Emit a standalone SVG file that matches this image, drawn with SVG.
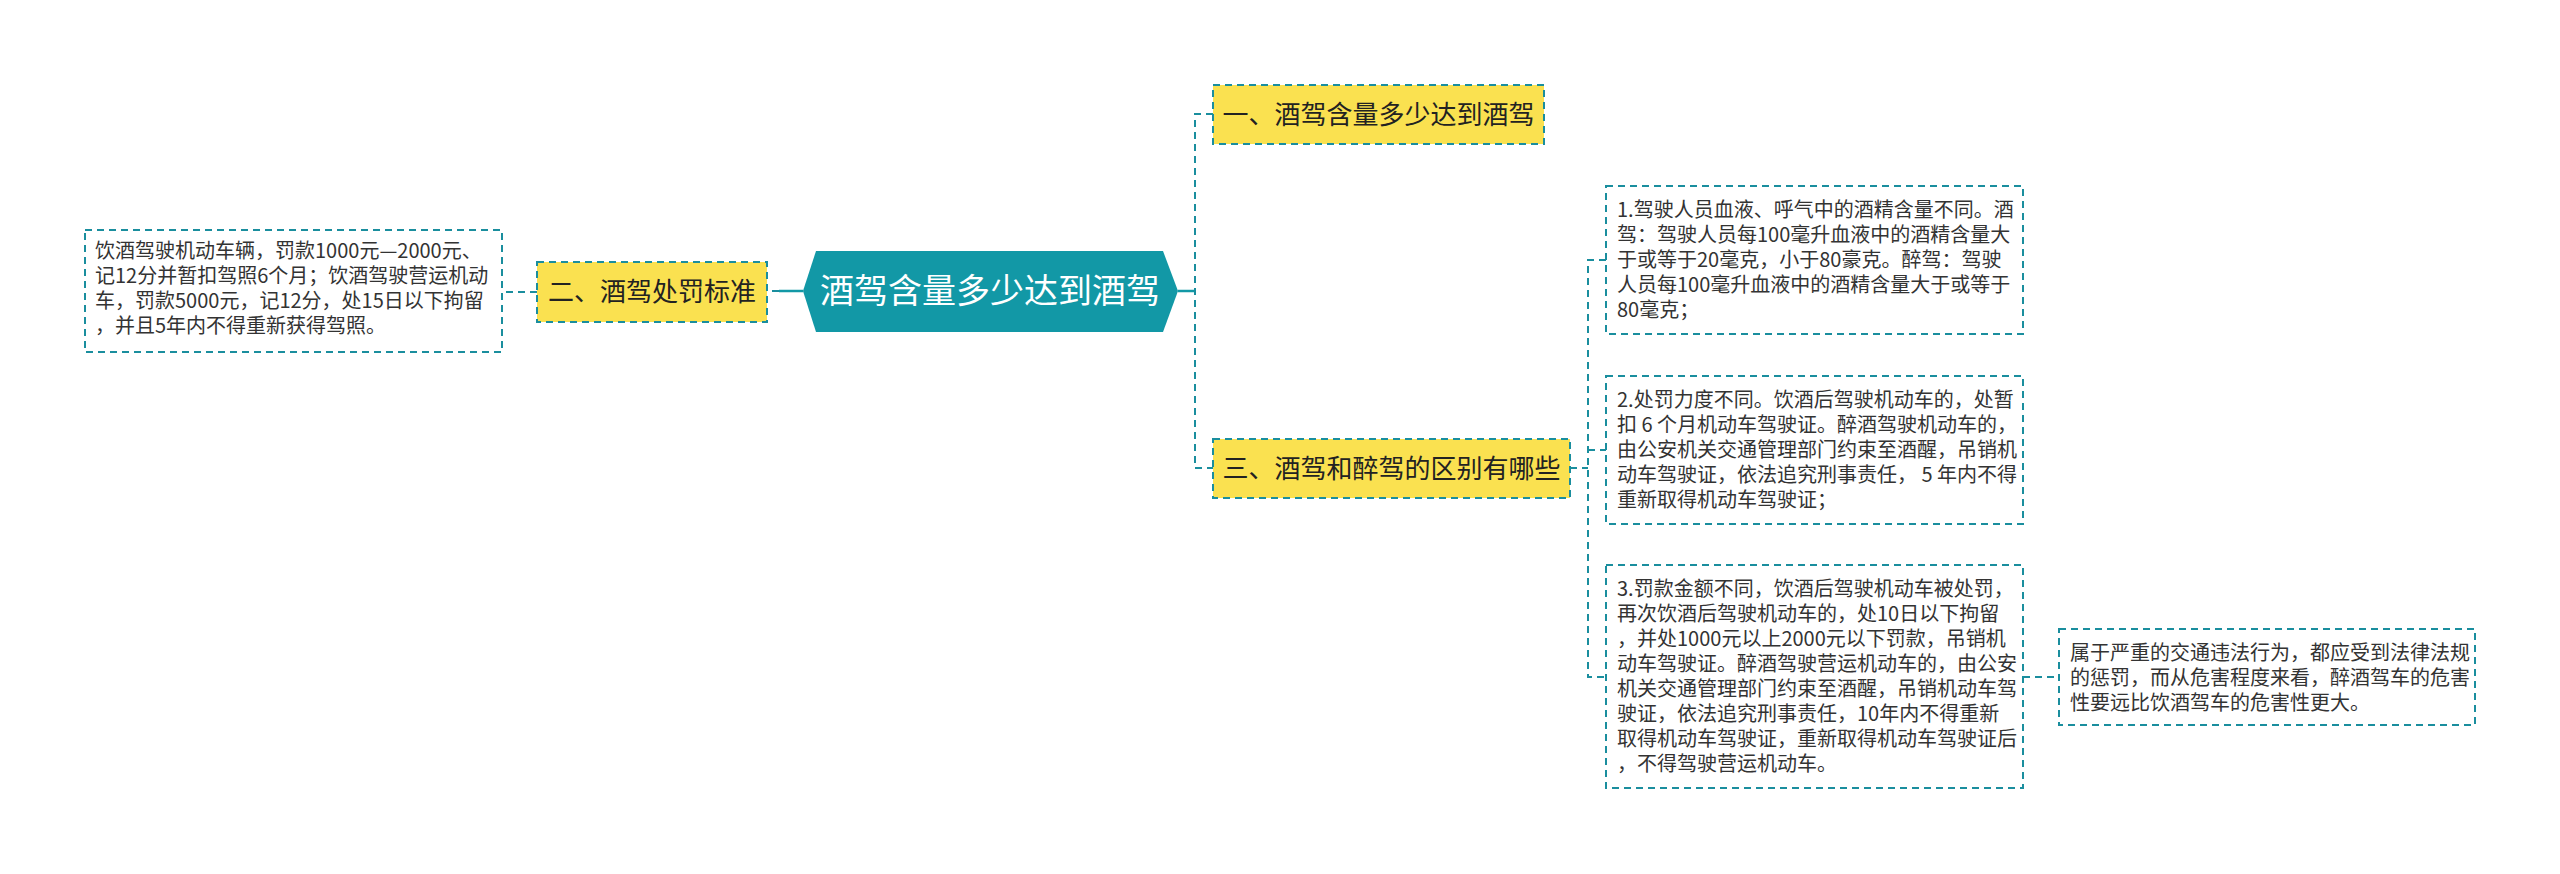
<svg xmlns="http://www.w3.org/2000/svg" width="2560" height="874" viewBox="0 0 2560 874">
<style>
.dash{fill:none;stroke:#1a8e9e;stroke-width:2;stroke-dasharray:7 5}
.solid{fill:none;stroke:#1298a6;stroke-width:2.5}
.yel{fill:#fae150;stroke:#1a8e9e;stroke-width:2;stroke-dasharray:7 5}
.box{fill:#ffffff;stroke:#1a8e9e;stroke-width:2;stroke-dasharray:7 5}
.t{font-family:"Noto Sans CJK SC","Microsoft YaHei",sans-serif;fill:#222}
.n{font-size:26px;text-anchor:middle}
.s{font-size:20px;fill:#333}
</style>
<rect x="0" y="0" width="2560" height="874" fill="#ffffff"/>
<g id="connectors">
<path class="solid" d="M803,291 H779"/>
<path class="dash" d="M779,291 H767"/>
<path class="dash" d="M537,292 H502"/>
<path class="solid" d="M1178,291 H1195"/>
<path class="dash" d="M1213,114 H1195 V468 H1213"/>
<path class="dash" d="M1570,468 H1588"/>
<path class="dash" d="M1606,260 H1588 V677 H1606"/>
<path class="dash" d="M1588,450 H1606"/>
<path class="dash" d="M2023,677 H2059"/>
</g>
<g id="root">
<polygon points="803,291 816,251 1163,251 1178,291 1163,332 816,332" fill="#1298a6"/>
<text class="t" x="990" y="303" font-size="34" text-anchor="middle" fill="#ffffff" style="fill:#ffffff">酒驾含量多少达到酒驾</text>
</g>
<g id="n1">
<rect class="yel" x="1213" y="85" width="331" height="59"/>
<text class="t n" x="1378.5" y="124">一、酒驾含量多少达到酒驾</text>
</g>
<g id="n2">
<rect class="yel" x="537" y="262" width="230" height="60"/>
<text class="t n" x="652" y="301">二、酒驾处罚标准</text>
</g>
<g id="n3">
<rect class="yel" x="1213" y="439" width="357" height="59"/>
<text class="t n" x="1391.5" y="478">三、酒驾和醉驾的区别有哪些</text>
</g>
<g id="leftbox">
<rect class="box" x="85" y="230" width="417" height="122"/>
<text class="t s" x="95" y="258">饮酒驾驶机动车辆，罚款1000元—2000元、</text>
<text class="t s" x="95" y="283">记12分并暂扣驾照6个月；饮酒驾驶营运机动</text>
<text class="t s" x="95" y="308">车，罚款5000元，记12分，处15日以下拘留</text>
<text class="t s" x="95" y="333">，并且5年内不得重新获得驾照。</text>
</g>
<g id="box1">
<rect class="box" x="1606" y="186" width="417" height="148"/>
<text class="t s" x="1617" y="217">1.驾驶人员血液、呼气中的酒精含量不同。酒</text>
<text class="t s" x="1617" y="242">驾：驾驶人员每100毫升血液中的酒精含量大</text>
<text class="t s" x="1617" y="267">于或等于20毫克，小于80豪克。醉驾：驾驶</text>
<text class="t s" x="1617" y="292">人员每100毫升血液中的酒精含量大于或等于</text>
<text class="t s" x="1617" y="317">80毫克；</text>
</g>
<g id="box2">
<rect class="box" x="1606" y="376" width="417" height="148"/>
<text class="t s" x="1617" y="407">2.处罚力度不同。饮酒后驾驶机动车的，处暂</text>
<text class="t s" x="1617" y="432">扣 6 个月机动车驾驶证。醉酒驾驶机动车的，</text>
<text class="t s" x="1617" y="457">由公安机关交通管理部门约束至酒醒，吊销机</text>
<text class="t s" x="1617" y="482">动车驾驶证，依法追究刑事责任， 5 年内不得</text>
<text class="t s" x="1617" y="507">重新取得机动车驾驶证；</text>
</g>
<g id="box3">
<rect class="box" x="1606" y="565" width="417" height="223"/>
<text class="t s" x="1617" y="596">3.罚款金额不同，饮酒后驾驶机动车被处罚，</text>
<text class="t s" x="1617" y="621">再次饮酒后驾驶机动车的，处10日以下拘留</text>
<text class="t s" x="1617" y="646">，并处1000元以上2000元以下罚款，吊销机</text>
<text class="t s" x="1617" y="671">动车驾驶证。醉酒驾驶营运机动车的，由公安</text>
<text class="t s" x="1617" y="696">机关交通管理部门约束至酒醒，吊销机动车驾</text>
<text class="t s" x="1617" y="721">驶证，依法追究刑事责任，10年内不得重新</text>
<text class="t s" x="1617" y="746">取得机动车驾驶证，重新取得机动车驾驶证后</text>
<text class="t s" x="1617" y="771">，不得驾驶营运机动车。</text>
</g>
<g id="box4">
<rect class="box" x="2059" y="629" width="416" height="96"/>
<text class="t s" x="2070" y="660">属于严重的交通违法行为，都应受到法律法规</text>
<text class="t s" x="2070" y="685">的惩罚，而从危害程度来看，醉酒驾车的危害</text>
<text class="t s" x="2070" y="710">性要远比饮酒驾车的危害性更大。</text>
</g>
</svg>
